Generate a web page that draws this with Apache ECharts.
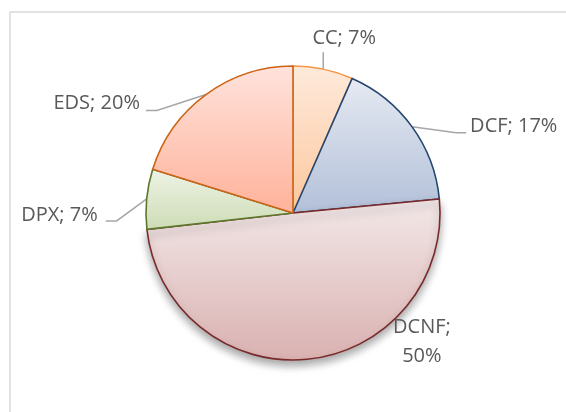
<!DOCTYPE html>
<html>
<head>
<meta charset="utf-8">
<script src="https://cdn.jsdelivr.net/npm/echarts@6/dist/echarts.min.js"></script>
<style>
html, body { margin: 0; padding: 0; background: #fff; }
#chart { width: 566px; height: 412px; }
</style>
</head>
<body>
<div id="chart"></div>
<script>
// slices, clockwise from 12 o'clock
const categories = ['CC', 'DCF', 'DCNF', 'DPX', 'EDS'];
const shares = [6.6, 16.9, 49.8, 6.6, 20.2];

const fillTop = ['#FEEADB', '#E6EAF2', '#F3E8E8', '#EEF3E6', '#FFE3DC'];
const fillBottom = ['#FCC79D', '#B2C0D9', '#DAB1B1', '#CDDCB5', '#FFB29A'];
const borderColors = ['#F79646', '#24466F', '#7A2A2A', '#5D772C', '#CC6314'];

const CX = 293, CY = 213, R = 147;

// label placement relative to the rim point echarts anchors each label on
const labelPlace = {
  CC:  { elbow: [0, -17], tail: 0, text: [21, -31], align: 'center' },
  DCF: { elbow: [44, 6], tail: 10, text: [58, -1], align: 'left' },
  DCNF: { polar: [Math.PI / 4, 1.24], wrap: true },
  DPX: { elbow: [-30, 22], tail: -11, text: [-49, 16], align: 'right' },
  EDS: { elbow: [-49, 16], tail: -11, text: [-66, 9], align: 'right' }
};

const pieData = categories.map((name, i) => ({
  name: name,
  value: shares[i],
  itemStyle: {
    color: new echarts.graphic.LinearGradient(0, 0, 0, 1, [
      { offset: 0, color: fillTop[i] },
      { offset: 1, color: fillBottom[i] }
    ]),
    borderColor: borderColors[i],
    borderWidth: 1.6,
    shadowBlur: name === 'DCNF' ? 9 : 0,
    shadowOffsetY: name === 'DCNF' ? 5 : 0,
    shadowColor: 'rgba(0,0,0,0.35)'
  },
  labelLine: { show: !labelPlace[name].wrap }
}));

const myChart = echarts.init(document.getElementById('chart'));

const option = {
  animation: false,
  graphic: [{
    type: 'rect',
    z: -1,
    shape: { x: 10, y: 12, width: 620, height: 460 },
    style: { fill: 'none', stroke: '#D9D9D9', lineWidth: 1.5 }
  }],
  series: [{
    type: 'pie',
    center: [CX, CY],
    radius: R,
    startAngle: 90,
    clockwise: true,
    avoidLabelOverlap: false,
    emphasis: { disabled: true },
    label: {
      show: true,
      position: 'outside',
      color: '#595959',
      fontFamily: 'Open Sans',
      fontSize: 20,
      lineHeight: 29,
      formatter: p => p.name + (labelPlace[p.name].wrap ? ';\n' : '; ') + Math.round(p.percent) + '%'
    },
    labelLine: {
      length: 10,
      length2: 10,
      smooth: false,
      lineStyle: { color: '#A6A6A6', width: 1.5 }
    },
    labelLayout: function (params) {
      const name = categories[params.dataIndex];
      const pl = labelPlace[name];
      if (pl.polar) {
        return {
          x: CX + R * pl.polar[1] * Math.cos(pl.polar[0]),
          y: CY + R * pl.polar[1] * Math.sin(pl.polar[0]),
          align: 'center',
          verticalAlign: 'middle'
        };
      }
      const p0 = params.labelLinePoints[0];
      const p1 = [p0[0] + pl.elbow[0], p0[1] + pl.elbow[1]];
      const p2 = [p1[0] + pl.tail, p1[1]];
      return {
        x: p0[0] + pl.text[0],
        y: p0[1] + pl.text[1],
        align: pl.align,
        verticalAlign: 'middle',
        labelLinePoints: [[p0[0], p0[1]], p1, p2]
      };
    },
    data: pieData
  }]
};

myChart.setOption(option);
</script>
</body>
</html>
